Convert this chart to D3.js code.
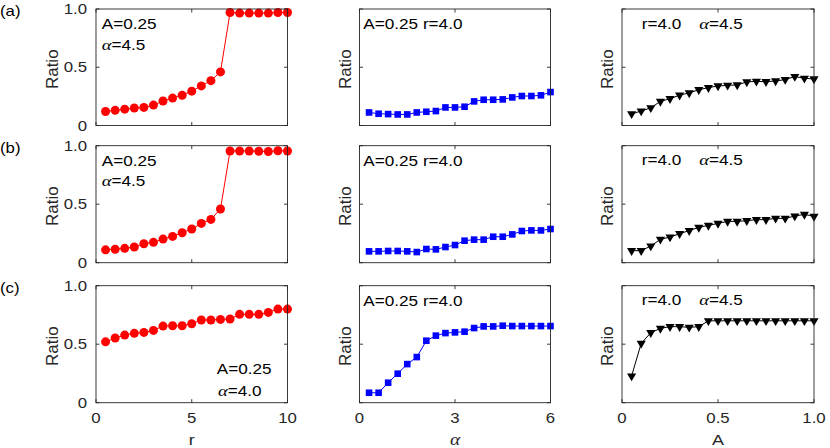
<!DOCTYPE html>
<html><head><meta charset="utf-8">
<script src="https://cdn.jsdelivr.net/npm/d3@7"></script>
<style>body{margin:0;background:#fff} svg{display:block}</style>
</head><body>
<script>
// ---- data ----
const rVals = [0.5,1,1.5,2,2.5,3,3.5,4,4.5,5,5.5,6,6.5,7,7.5,8,8.5,9,9.5,10];
const alphaVals = [0.3,0.6,0.9,1.2,1.5,1.8,2.1,2.4,2.7,3.0,3.3,3.6,3.9,4.2,4.5,4.8,5.1,5.4,5.7,6.0];
const aVals = [0.05,0.1,0.15,0.2,0.25,0.3,0.35,0.4,0.45,0.5,0.55,0.6,0.65,0.7,0.75,0.8,0.85,0.9,0.95,1.0];

const ratioR_a = [0.12,0.13,0.14,0.15,0.155,0.175,0.21,0.235,0.26,0.295,0.34,0.385,0.46,0.97,0.965,0.965,0.965,0.965,0.97,0.97];
const ratioR_b = [0.11,0.115,0.123,0.134,0.162,0.174,0.202,0.225,0.256,0.288,0.336,0.37,0.459,0.955,0.955,0.955,0.953,0.95,0.957,0.955];
const ratioR_c = [0.52,0.553,0.578,0.593,0.601,0.618,0.655,0.658,0.658,0.675,0.707,0.707,0.712,0.715,0.755,0.755,0.755,0.772,0.80,0.80];

const ratioAlpha_a = [0.112,0.101,0.098,0.095,0.095,0.112,0.118,0.124,0.155,0.155,0.161,0.207,0.221,0.221,0.224,0.241,0.253,0.253,0.259,0.287];
const ratioAlpha_b = [0.097,0.097,0.10,0.10,0.097,0.091,0.117,0.114,0.134,0.151,0.188,0.197,0.197,0.222,0.222,0.242,0.271,0.276,0.276,0.288];
const ratioAlpha_c = [0.085,0.085,0.171,0.248,0.33,0.39,0.53,0.573,0.595,0.601,0.607,0.638,0.652,0.652,0.658,0.655,0.655,0.655,0.655,0.655];

const ratioA_a = [0.10,0.124,0.152,0.207,0.23,0.26,0.28,0.307,0.325,0.339,0.345,0.348,0.374,0.379,0.376,0.382,0.394,0.42,0.405,0.40];
const ratioA_b = [0.103,0.103,0.142,0.20,0.219,0.248,0.274,0.302,0.319,0.336,0.353,0.353,0.359,0.368,0.368,0.379,0.379,0.399,0.413,0.396];
const ratioA_c = [0.228,0.507,0.598,0.635,0.65,0.65,0.644,0.65,0.70,0.70,0.70,0.70,0.70,0.70,0.70,0.70,0.70,0.70,0.70,0.70];

const rTicks = [0,5,10], rTickLabels = ["0","5","10"];
const alphaTicks = [0,3,6], alphaTickLabels = ["0","3","6"];
const aTicks = [0,0.5,1.0], aTickLabels = ["0","0.5","1.0"];
const ratioTicks = [0,0.5,1.0], ratioTickLabels = ["0","0.5","1.0"];
const rowLabels = ["(a)","(b)","(c)"];

// ---- layout ----
const W = 830, H = 448;
const cols = [[96,287.5],[359.5,550.5],[622,814]];
const rows = [[9,125.5],[145.7,262.7],[285.7,402.7]];
const FONT = "'Liberation Sans', Arial, sans-serif";
const SX = 1.2; // horizontal stretch of text
const ink = "#262626";

const svg = d3.select("body").append("svg").attr("width", W).attr("height", H);

function txt(x, y, anchor, size, parts, fill) {
  const t = svg.append("text")
    .attr("transform", `translate(${x},${y}) scale(${SX},1)`)
    .attr("text-anchor", anchor)
    .attr("font-family", FONT)
    .attr("font-size", size)
    .attr("fill", fill || "#000");
  parts.forEach(p => {
    const s = t.append("tspan").text(p.t);
    if (p.alpha) s.attr("font-family", "'Liberation Serif', serif").attr("font-style", "italic").attr("font-size", size * 1.08);
  });
  return t;
}

const xCfg = [
  {vals: rVals, dom: [0,10], ticks: rTicks, labels: rTickLabels},
  {vals: alphaVals, dom: [0,6], ticks: alphaTicks, labels: alphaTickLabels},
  {vals: aVals, dom: [0,1], ticks: aTicks, labels: aTickLabels}
];
const series = [
  [ratioR_a, ratioAlpha_a, ratioA_a],
  [ratioR_b, ratioAlpha_b, ratioA_b],
  [ratioR_c, ratioAlpha_c, ratioA_c]
];
const colors = ["#ff0000", "#0000ff", "#000000"];

rows.forEach((ry, ri) => {
  cols.forEach((cx, ci) => {
    const x = d3.scaleLinear().domain(xCfg[ci].dom).range(cx);
    const y = d3.scaleLinear().domain([0,1]).range([ry[1], ry[0]]);
    const g = svg.append("g");
    const data = xCfg[ci].vals.map((v, i) => [v, series[ri][ci][i]]);
    const col = colors[ci];

    // line
    g.append("path").datum(data)
      .attr("d", d3.line().x(d => x(d[0])).y(d => y(d[1])))
      .attr("fill", "none").attr("stroke", col).attr("stroke-width", 1);

    // markers
    if (ci === 0) {
      g.selectAll("circle").data(data).join("circle")
        .attr("cx", d => x(d[0])).attr("cy", d => y(d[1])).attr("r", 4.5).attr("fill", col);
    } else if (ci === 1) {
      g.selectAll("rect.m").data(data).join("rect")
        .attr("x", d => x(d[0]) - 3.3).attr("y", d => y(d[1]) - 3.3)
        .attr("width", 6.6).attr("height", 6.6).attr("fill", col);
    } else {
      const tri = d3.symbol().type(d3.symbolTriangle).size(36);
      g.selectAll("path.m").data(data).join("path")
        .attr("d", tri)
        .attr("transform", d => `translate(${x(d[0])},${y(d[1])}) rotate(180)`)
        .attr("fill", col);
    }

    // frame
    g.append("rect").attr("x", cx[0]).attr("y", ry[0])
      .attr("width", cx[1]-cx[0]).attr("height", ry[1]-ry[0])
      .attr("fill", "none").attr("stroke", ink).attr("stroke-width", 0.9);

    const tl = 3.5;
    // x ticks (bottom and top, inward)
    xCfg[ci].ticks.forEach((tv, k) => {
      const px = x(tv);
      g.append("line").attr("x1", px).attr("x2", px).attr("y1", ry[1]).attr("y2", ry[1]-tl).attr("stroke", ink).attr("stroke-width", 0.9);
      g.append("line").attr("x1", px).attr("x2", px).attr("y1", ry[0]).attr("y2", ry[0]+tl).attr("stroke", ink).attr("stroke-width", 0.9);
      if (ri === 2) txt(px, ry[1] + 20.5, "middle", 14, [{t: xCfg[ci].labels[k]}], ink);
    });
    // y ticks (left and right, inward)
    ratioTicks.forEach((tv, k) => {
      const py = y(tv);
      g.append("line").attr("x1", cx[0]).attr("x2", cx[0]+tl).attr("y1", py).attr("y2", py).attr("stroke", ink).attr("stroke-width", 0.9);
      g.append("line").attr("x1", cx[1]).attr("x2", cx[1]-tl).attr("y1", py).attr("y2", py).attr("stroke", ink).attr("stroke-width", 0.9);
      if (ci === 0) txt(cx[0] - 9, py + 5, "end", 14, [{t: ratioTickLabels[k]}], ink);
    });

    // y label
    const lx = ci === 0 ? cx[0] - 37.7 : cx[0] - 8.8;
    svg.append("text")
      .attr("transform", `translate(${lx},${(ry[0]+ry[1])/2 + 2}) rotate(-90)`)
      .attr("text-anchor", "middle").attr("font-family", FONT).attr("font-size", 17)
      .attr("fill", ink).text("Ratio");
  });

  // row label
  txt(0, ry[0] + 7, "start", 14, [{t: rowLabels[ri]}], "#000");
});

// ---- annotations ----
[0,1].forEach(ri => {
  const top = rows[ri][0];
  txt(101.7, top + 20.3, "start", 14.3, [{t: "A=0.25"}]);
  txt(101.7, top + 40.5, "start", 14.3, [{t: "α", alpha: true}, {t: "=4.5"}]);
});
txt(216.7, rows[2][1] - 28.7, "start", 14.3, [{t: "A=0.25"}]);
txt(218, rows[2][1] - 6.7, "start", 14.3, [{t: "α", alpha: true}, {t: "=4.0"}]);
rows.forEach(ry => {
  txt(363.3, ry[0] + 20.3, "start", 14.3, [{t: "A=0.25 r=4.0"}]);
  txt(641.7, ry[0] + 19.5, "start", 14.3, [{t: "r=4.0"}]);
  txt(699.3, ry[0] + 19.5, "start", 14.3, [{t: "α", alpha: true}, {t: "=4.5"}]);
});

// ---- x axis labels ----
txt(191.8, 444.5, "middle", 15, [{t: "r"}], ink);
txt(455, 444.5, "middle", 15, [{t: "α", alpha: true}], ink);
txt(718, 444.5, "middle", 15, [{t: "A"}], ink);
</script>
</body></html>
